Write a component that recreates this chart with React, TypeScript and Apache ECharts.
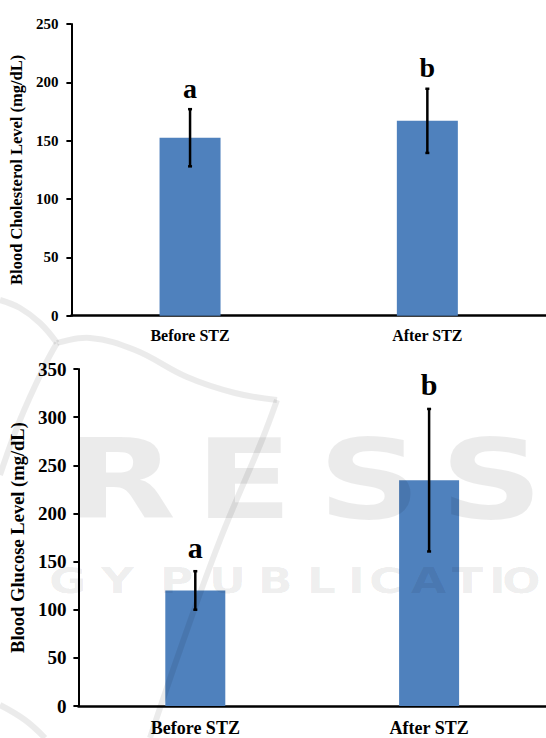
import React, { useEffect, useRef } from 'react';
import * as echarts from 'echarts';

// ---- data ----
const categories = ['Before STZ', 'After STZ'];
const cholesterolMean = [152.5, 167];
const cholesterolErr = [24.5, 27.5];
const glucoseMean = [120, 234.5];
const glucoseErr = [20, 74];
const letters = ['a', 'b'];
const cholesterolAxis = { min: 0, max: 250, interval: 50 };
const glucoseAxis = { min: 0, max: 350, interval: 50 };
const cholesterolTitle = 'Blood Cholesterol Level (mg/dL)';
const glucoseTitle = 'Blood Glucose Level (mg/dL)';

// watermark (decorative)
const wmRow1: [string, number][] = [['R', 66], ['E', 195], ['S', 318], ['S', 440]];
const wmRow2: [string, number][] = [
  ['G', 49], ['Y', 101], ['P', 160], ['U', 209], ['B', 258], ['L', 307], ['I', 348],
  ['C', 369], ['A', 411], ['T', 452], ['I', 489], ['O', 502],
];

const FONT = '"Liberation Serif", "Times New Roman", serif';
const BAR = '#4F81BD';
const WM = 'rgba(0,0,0,0.08)';

function errorSeries(idx: number, means: number[], errs: number[], letterSize: number, letterGap: number) {
  return {
    type: 'custom',
    xAxisIndex: idx,
    yAxisIndex: idx,
    z: 10,
    silent: true,
    data: means.map((m, i) => [i, m - errs[i], m + errs[i]]),
    encode: { x: 0, y: [1, 2] },
    renderItem: (params: any, api: any) => {
      const i = api.value(0);
      const lo = api.coord([i, api.value(1)]);
      const hi = api.coord([i, api.value(2)]);
      const cap = 2;
      return {
        type: 'group',
        children: [
          { type: 'line', shape: { x1: lo[0], y1: lo[1], x2: hi[0], y2: hi[1] }, style: { stroke: '#000', lineWidth: 2.5 } },
          { type: 'line', shape: { x1: lo[0] - cap, y1: lo[1], x2: lo[0] + cap, y2: lo[1] }, style: { stroke: '#000', lineWidth: 2.5 } },
          { type: 'line', shape: { x1: hi[0] - cap, y1: hi[1], x2: hi[0] + cap, y2: hi[1] }, style: { stroke: '#000', lineWidth: 2.5 } },
          {
            type: 'text',
            x: hi[0],
            y: hi[1] - letterGap,
            style: {
              text: letters[params.dataIndex],
              fontFamily: FONT,
              fontWeight: 'bold',
              fontSize: letterSize,
              fill: '#000',
              align: 'center',
              verticalAlign: 'bottom',
            },
          },
        ],
      };
    },
  };
}

function yAxisCfg(idx: number, ax: any, title: string, tickSize: number, titleSize: number, gap: number, margin: number) {
  return {
    type: 'value',
    gridIndex: idx,
    min: ax.min,
    max: ax.max,
    interval: ax.interval,
    name: title,
    nameLocation: 'middle',
    nameRotate: 90,
    nameGap: gap,
    nameTextStyle: { fontFamily: FONT, fontWeight: 'bold', fontSize: titleSize, color: '#000' },
    axisLine: { show: true, lineStyle: { color: '#000', width: 2 } },
    axisTick: { show: true, length: 5, lineStyle: { color: '#000', width: 2 } },
    splitLine: { show: false },
    axisLabel: { fontFamily: FONT, fontWeight: 'bold', fontSize: tickSize, color: '#000', margin },
  };
}

function xAxisCfg(idx: number, size: number, margin: number) {
  return {
    type: 'category',
    gridIndex: idx,
    data: categories,
    axisLine: { show: true, lineStyle: { color: '#000', width: 2.5 } },
    axisTick: { show: false },
    axisLabel: { fontFamily: FONT, fontWeight: 'bold', fontSize: size, color: '#000', margin },
  };
}

function wmLetter(ch: string, x: number, y: number, size: number, sx: number) {
  return {
    type: 'group', x, y, scaleX: sx, silent: true, z: 100,
    children: [
      {
        type: 'text', x: 0, y: 0, silent: true, z: 100,
        style: { text: ch, fontFamily: 'DejaVu Sans', fontWeight: 'bold', fontSize: size, fill: WM, align: 'left', verticalAlign: 'middle' },
      },
    ],
  };
}

function watermark() {
  const els: any[] = [];
  wmRow1.forEach(([ch, x]) => els.push(wmLetter(ch, x, 480, 110, 1.3)));
  wmRow2.forEach(([ch, x]) => els.push(wmLetter(ch, x, 581, 35, 1.3)));
  const strokes = [
    [[0, 300], [20, 308], [40, 323], [57, 343]],
    [[57, 343], [90, 338], [135, 350], [187, 377], [235, 393], [277, 400]],
    [[277, 400], [262, 440], [220, 540], [180, 650], [150, 738]],
    [[57, 343], [45, 365], [20, 420], [0, 475]],
    [[0, 705], [25, 720], [45, 738]],
  ];
  strokes.forEach((pts) => {
    els.push({
      type: 'polyline', silent: true, z: 100,
      shape: { points: pts, smooth: 0.4 },
      style: { stroke: WM, lineWidth: 6, fill: 'none' },
    });
  });
  return els;
}

export default function App() {
  const ref = useRef<HTMLDivElement>(null);
  useEffect(() => {
    if (!ref.current) return;
    const chart = echarts.init(ref.current, undefined, { renderer: 'svg' });
    chart.setOption({
      animation: false,
      backgroundColor: '#fff',
      grid: [
        { left: 70, top: 24, width: 490, height: 291.7 },
        { left: 72, top: 369, width: 480, height: 337 },
      ],
      xAxis: [xAxisCfg(0, 16, 12), xAxisCfg(1, 18, 13)],
      yAxis: [
        yAxisCfg(0, cholesterolAxis, cholesterolTitle, 15, 16.5, 42, 13),
        yAxisCfg(1, glucoseAxis, glucoseTitle, 19, 18.5, 44, 12),
      ],
      series: [
        { type: 'bar', xAxisIndex: 0, yAxisIndex: 0, data: cholesterolMean, barWidth: 61, itemStyle: { color: BAR }, silent: true },
        errorSeries(0, cholesterolMean, cholesterolErr, 28, 7),
        { type: 'bar', xAxisIndex: 1, yAxisIndex: 1, data: glucoseMean, barWidth: 60, itemStyle: { color: BAR }, silent: true },
        errorSeries(1, glucoseMean, glucoseErr, 30, 9),
      ],
      graphic: watermark(),
    });
    return () => chart.dispose();
  }, []);
  return <div ref={ref} style={{ position: 'absolute', left: 0, top: 0, width: 546, height: 738 }} />;
}
